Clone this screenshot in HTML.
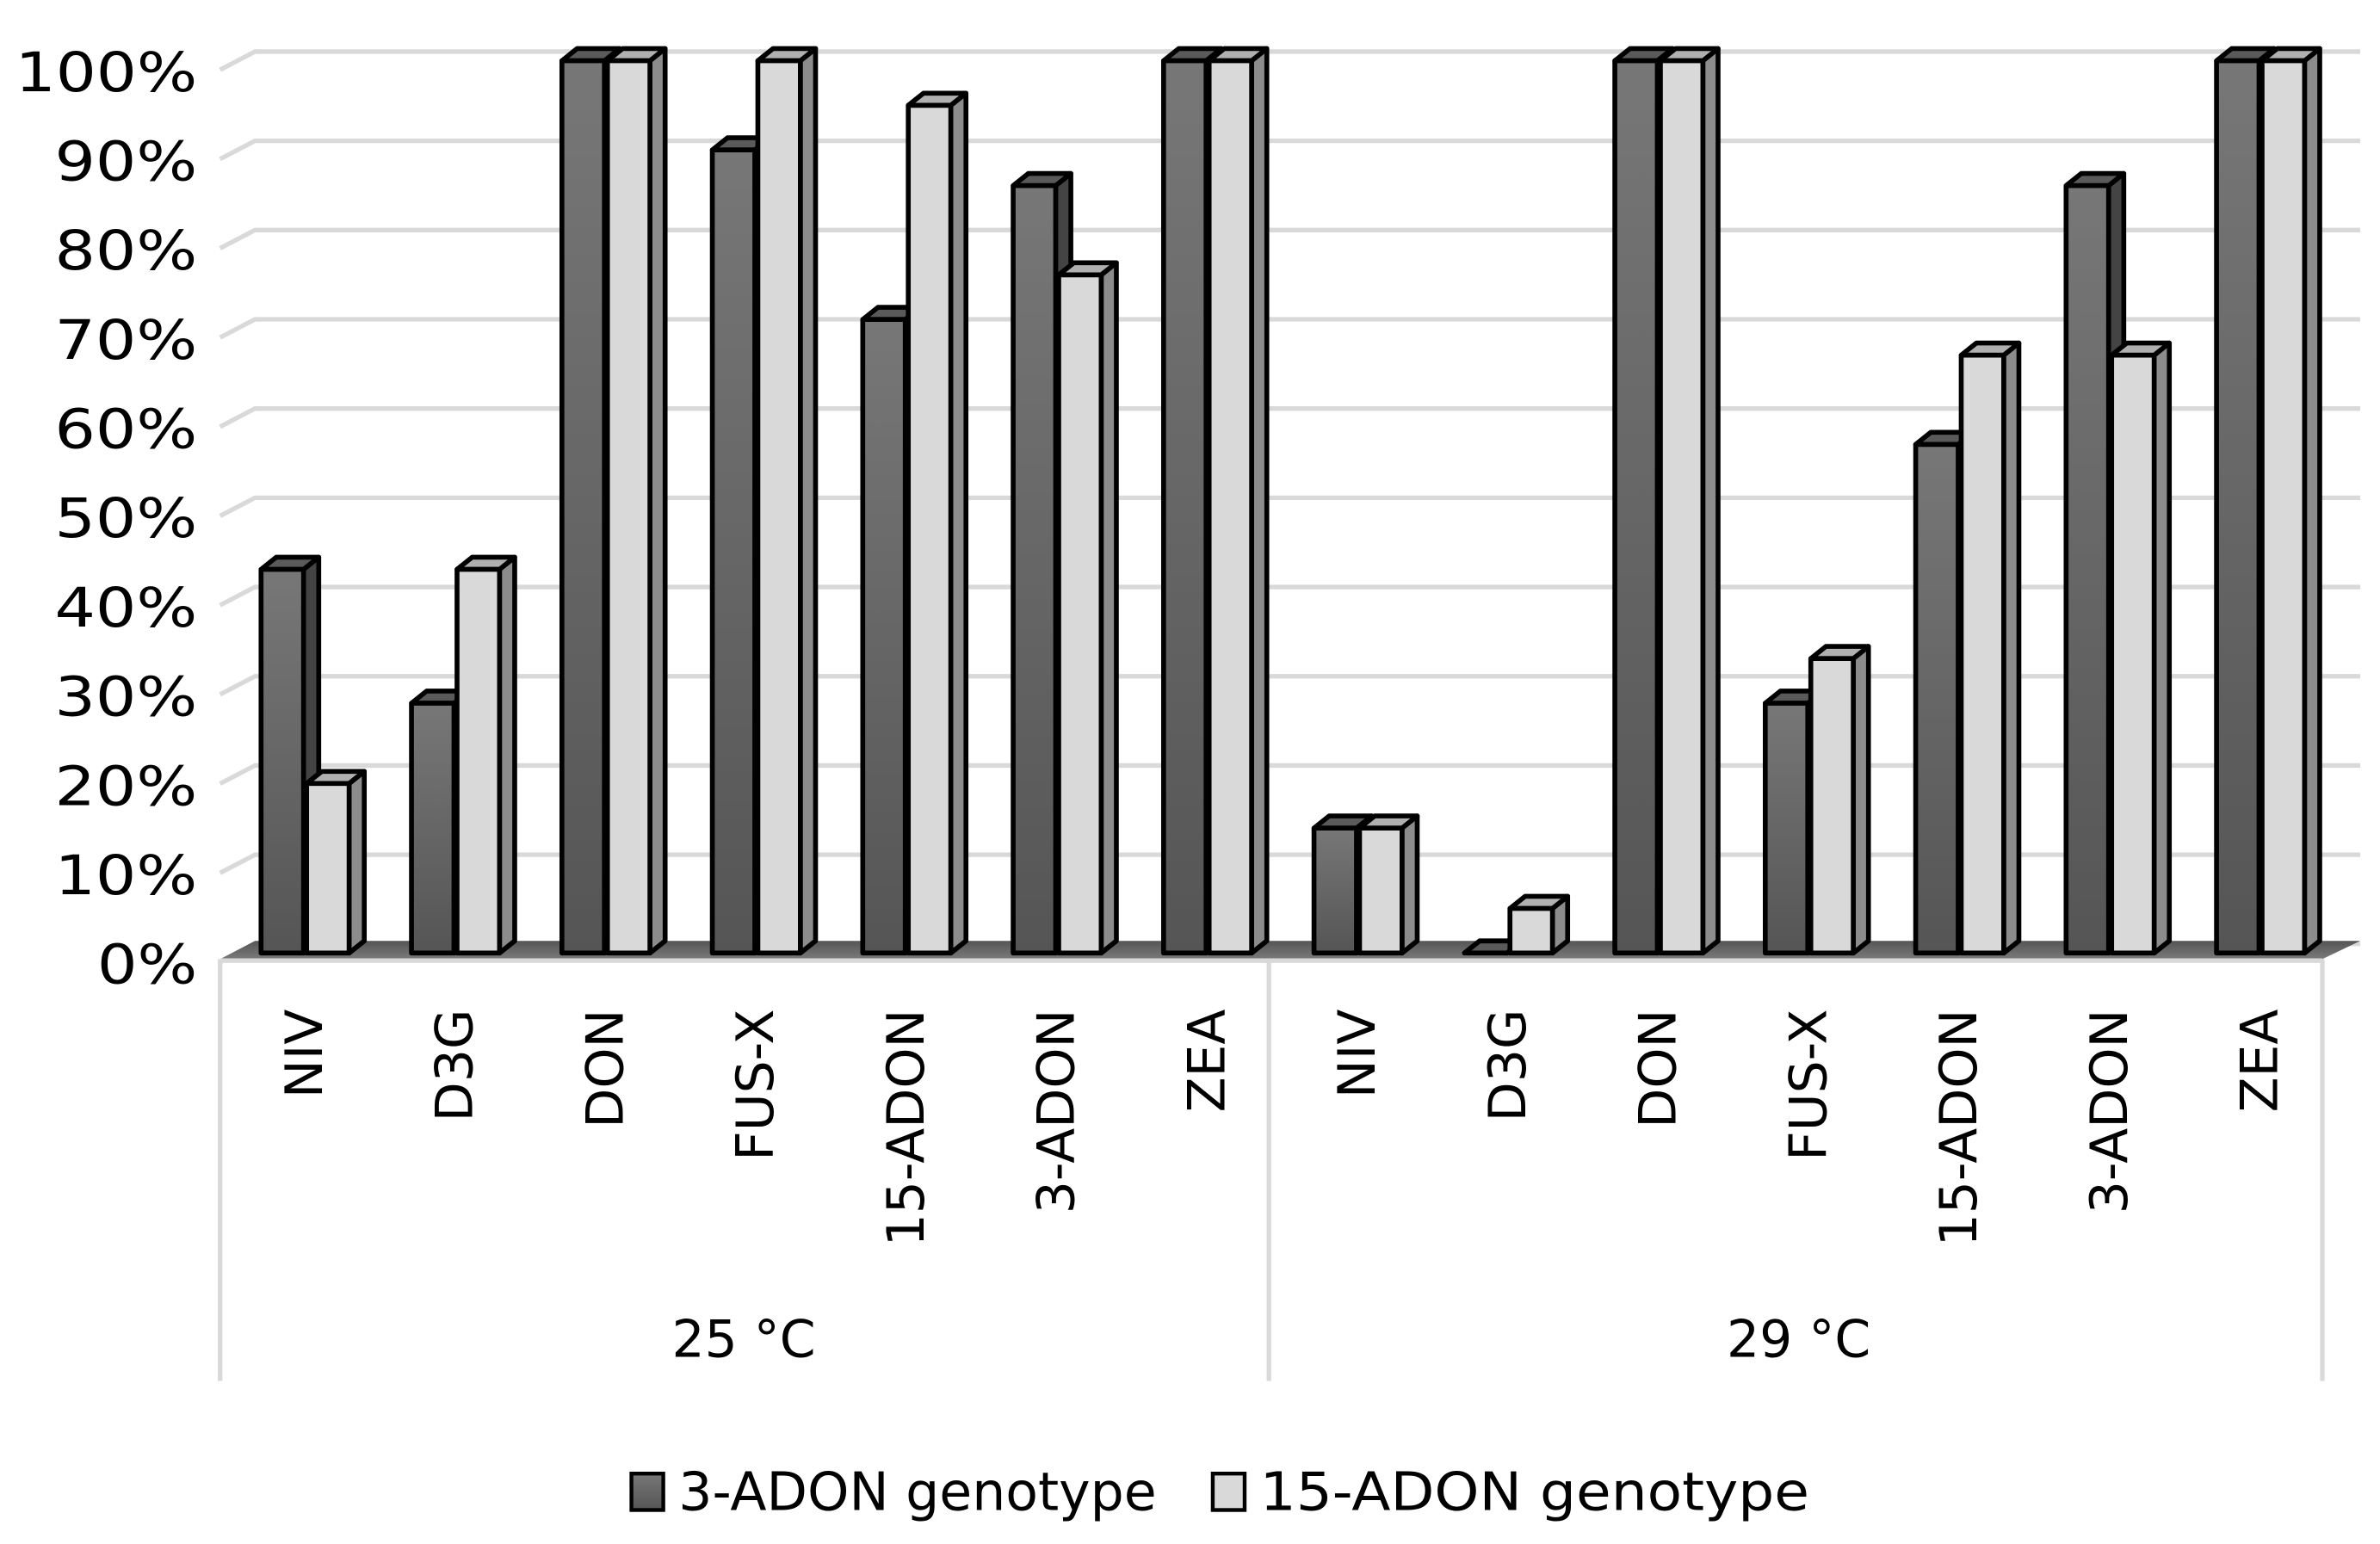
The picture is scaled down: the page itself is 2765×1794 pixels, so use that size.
<!DOCTYPE html>
<html><head><meta charset="utf-8"><style>html,body{margin:0;padding:0;background:#fff}svg{display:block}</style></head>
<body>
<svg id="chart" width="2765" height="1794" viewBox="0 0 1568 1017.4" preserveAspectRatio="none" xmlns="http://www.w3.org/2000/svg" font-family="'DejaVu Sans','Liberation Sans',sans-serif">
<defs>
<linearGradient id="gd" x1="0" y1="0" x2="0" y2="1"><stop offset="0" stop-color="#777"/><stop offset="1" stop-color="#555"/></linearGradient>
<linearGradient id="gf" x1="0" y1="0" x2="0" y2="1"><stop offset="0" stop-color="#555"/><stop offset="1" stop-color="#7a7a7a"/></linearGradient>
</defs>
<g id="grid"></g>
<polygon points="145,632 168,620 1555,620 1530,632" fill="url(#gf)"/>
<g id="bars"></g>
<g stroke="#d9d9d9" stroke-width="3" fill="none">
<line x1="145" y1="633" x2="1530" y2="633"/>
<line x1="145" y1="632" x2="145" y2="910"/>
<line x1="836" y1="632" x2="836" y2="910"/>
<line x1="1530" y1="632" x2="1530" y2="910"/>
</g>
<g id="ylabels"></g>
<g id="xlabels"></g>
<text x="490" y="894" font-size="34" text-anchor="middle">25 °C</text>
<text x="1185" y="894" font-size="34" text-anchor="middle">29 °C</text>
<g>
<rect x="416" y="971" width="21" height="24" fill="url(#gd)" stroke="#000" stroke-width="2.5"/>
<text x="447" y="995" font-size="35" lengthAdjust="spacingAndGlyphs" textLength="315">3-ADON genotype</text>
<rect x="799" y="971" width="21" height="24" fill="#d9d9d9" stroke="#000" stroke-width="2.5"/>
<text x="830" y="995" font-size="35" lengthAdjust="spacingAndGlyphs" textLength="362">15-ADON genotype</text>
</g>
</svg>
<script>
const categories = ["NIV","D3G","DON","FUS-X","15-ADON","3-ADON","ZEA","NIV","D3G","DON","FUS-X","15-ADON","3-ADON","ZEA"];
const seriesA = [43,28,100,90,71,86,100,14,0,100,28,57,86,100];
const seriesB = [19,43,100,100,95,76,100,14,5,100,33,67,67,100];
const yTicks = [0,10,20,30,40,50,60,70,80,90,100];
const yTickLabels = ["0%","10%","20%","30%","40%","50%","60%","70%","80%","90%","100%"];
const NS="http://www.w3.org/2000/svg";
function yFront(v){return 628 - v*5.88;}
function xCat(i){return 172 + i*99.1;}
const DX=10, DY=8, BW=28;
const grid=document.getElementById('grid');
yTicks.forEach(function(t){
  const yb=yFront(t)-6, yf=yb+8;
  const p=document.createElementNS(NS,'polyline');
  
  
  p.setAttribute('points','145,'+(yf+4)+' 168,'+yb+' 1555,'+yb);
  p.setAttribute('fill','none');p.setAttribute('stroke','#d9d9d9');p.setAttribute('stroke-width','3');
  grid.appendChild(p);
});
const yl=document.getElementById('ylabels');
yTicks.forEach(function(t,i){
  const tx=document.createElementNS(NS,'text');
  
  
  tx.setAttribute('x','130');tx.setAttribute('y',yFront(t)+20);
  tx.setAttribute('font-size','36');tx.setAttribute('text-anchor','end');
  const s=yTickLabels[i];
  tx.setAttribute('lengthAdjust','spacingAndGlyphs');
  tx.setAttribute('textLength', s.length===4?120:(s.length===3?94:66));
  tx.textContent=s;yl.appendChild(tx);
});
const bars=document.getElementById('bars');
function bar(x,v,front,side,top,name){
  const g=document.createElementNS(NS,'g');
  
  
  const yt=yFront(v), yb=628;
  const common=' stroke="#000" stroke-width="3.2" stroke-linejoin="round"';
  g.innerHTML='<polygon points="'+(x+BW)+','+yt+' '+(x+BW+DX)+','+(yt-DY)+' '+(x+BW+DX)+','+(yb-DY)+' '+(x+BW)+','+yb+'" fill="'+side+'"'+common+'/>'+
  '<polygon points="'+x+','+yt+' '+(x+DX)+','+(yt-DY)+' '+(x+BW+DX)+','+(yt-DY)+' '+(x+BW)+','+yt+'" fill="'+top+'"'+common+'/>'+
  '<rect x="'+x+'" y="'+yt+'" width="'+BW+'" height="'+(yb-yt)+'" fill="'+front+'"'+common+'/>';
  bars.appendChild(g);
}
categories.forEach(function(c,i){
  const x=xCat(i);
  bar(x,seriesA[i],'url(#gd)','#444','#5a5a5a','bar-3adon-'+i);
  bar(x+BW+2,seriesB[i],'#d9d9d9','#8c8c8c','#b0b0b0','bar-15adon-'+i);
});
const xl=document.getElementById('xlabels');
categories.forEach(function(c,i){
  const cx=xCat(i)+BW+12;
  const tx=document.createElementNS(NS,'text');
  
  
  tx.setAttribute('font-size','34');tx.setAttribute('text-anchor','end');
  tx.setAttribute('transform','translate('+cx+',665) rotate(-90)');
  tx.setAttribute('x','0');tx.setAttribute('y','0');
  tx.textContent=c;xl.appendChild(tx);
});
</script>
</body></html>
